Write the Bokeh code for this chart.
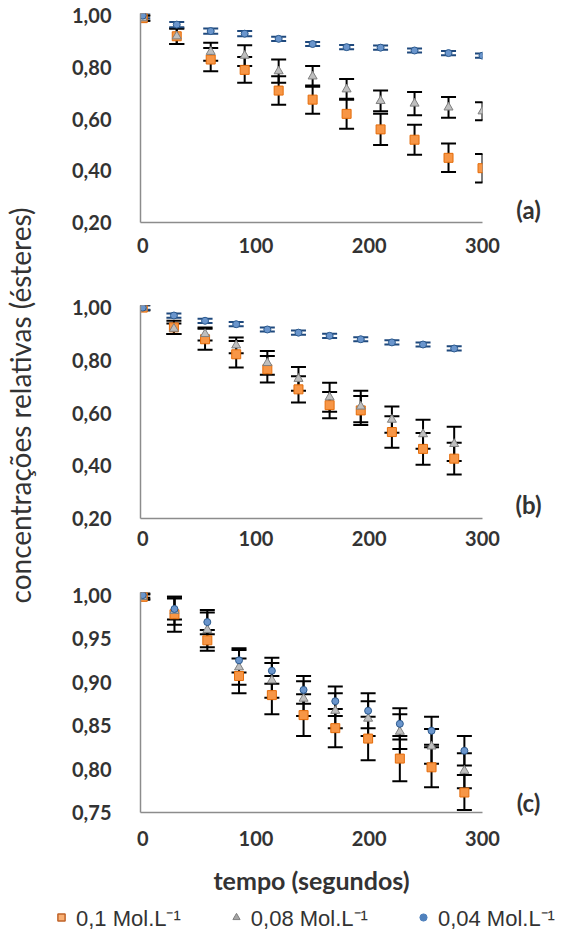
import math
from bokeh.plotting import figure
from bokeh.models import (ColumnDataSource, Whisker, TeeHead, FixedTicker,
                          CustomJSTickFormatter, Label, Range1d, Legend, LegendItem)
from bokeh.layouts import row, column
from bokeh.embed import file_html
from bokeh.resources import INLINE

# ---------------- data ----------------
series_names = ["0,1 Mol.L\u207b\u00b9", "0,08 Mol.L\u207b\u00b9", "0,04 Mol.L\u207b\u00b9"]
panel_tags = ["(a)", "(b)", "(c)"]

times_a = [0, 30, 60, 90, 120, 150, 180, 210, 240, 270, 300]
orange_a = [0.99, 0.92, 0.83, 0.79, 0.71, 0.675, 0.62, 0.56, 0.52, 0.45, 0.41]
orange_a_err = [0.01, 0.03, 0.045, 0.05, 0.055, 0.055, 0.058, 0.06, 0.058, 0.055, 0.055]
grey_a = [0.99, 0.92, 0.86, 0.845, 0.785, 0.765, 0.715, 0.67, 0.66, 0.645, 0.63]
grey_a_err = [0.01, 0.03, 0.035, 0.04, 0.045, 0.04, 0.04, 0.04, 0.045, 0.04, 0.035]
blue_a = [1.0, 0.965, 0.94, 0.93, 0.91, 0.89, 0.878, 0.876, 0.865, 0.855, 0.845]
blue_a_err = [0.01, 0.01, 0.01, 0.01, 0.008, 0.008, 0.008, 0.008, 0.008, 0.008, 0.008]

times_b = [0, 27.5, 55, 82.5, 110, 137.5, 165, 192.5, 220, 247.5, 275]
orange_b = [1.0, 0.925, 0.88, 0.823, 0.766, 0.69, 0.63, 0.61, 0.528, 0.464, 0.427]
orange_b_err = [0.01, 0.025, 0.04, 0.05, 0.05, 0.05, 0.05, 0.055, 0.06, 0.06, 0.06]
grey_b = [1.0, 0.92, 0.90, 0.857, 0.79, 0.73, 0.66, 0.625, 0.575, 0.52, 0.483]
grey_b_err = [0.01, 0.02, 0.025, 0.03, 0.045, 0.045, 0.055, 0.06, 0.05, 0.055, 0.065]
blue_b = [1.0, 0.97, 0.95, 0.937, 0.917, 0.905, 0.893, 0.88, 0.868, 0.86, 0.845]
blue_b_err = [0.008, 0.008, 0.008, 0.008, 0.008, 0.008, 0.008, 0.008, 0.008, 0.008, 0.008]

times_c = [0, 28, 57, 85, 114, 142, 170, 199, 227, 255, 284]
orange_c = [0.998, 0.978, 0.948, 0.907, 0.885, 0.862, 0.847, 0.835, 0.812, 0.802, 0.773]
orange_c_err = [0.003, 0.02, 0.012, 0.02, 0.022, 0.024, 0.022, 0.025, 0.026, 0.023, 0.02]
grey_c = [0.998, 0.982, 0.96, 0.917, 0.902, 0.881, 0.867, 0.858, 0.843, 0.826, 0.798]
grey_c_err = [0.003, 0.016, 0.02, 0.02, 0.02, 0.02, 0.02, 0.02, 0.02, 0.02, 0.02]
blue_c = [1.0, 0.984, 0.969, 0.925, 0.913, 0.891, 0.878, 0.867, 0.852, 0.844, 0.821]
blue_c_err = [0.003, 0.012, 0.014, 0.014, 0.015, 0.016, 0.017, 0.02, 0.018, 0.016, 0.017]

x_ticks = [0, 100, 200, 300]
y_ticks_ab = [0.2, 0.4, 0.6, 0.8, 1.0]
y_ticks_c = [0.75, 0.80, 0.85, 0.90, 0.95, 1.00]

# ---------------- styles ----------------
ORANGE_FILL, ORANGE_LINE = "#F79646", "#E46C0A"
GREY_FILL, GREY_LINE = "#BFBFBF", "#7F7F7F"
BLUE_FILL, BLUE_LINE = "#6A95CC", "#2C5A8E"
AXIS_COLOR = "#8C8C8C"
TEXT_COLOR = "#333333"
FONT = "Lato"

FIG_W = 462
H_A, H_B, H_C = 282, 290, 331
TH = H_A + H_B + H_C


def style_axes(p, xstand, ticks_y):
    p.xgrid.visible = False
    p.ygrid.visible = False
    p.outline_line_color = None
    for ax in (p.xaxis[0], p.yaxis[0]):
        ax.axis_line_color = AXIS_COLOR
        ax.axis_line_width = 1.5
        ax.major_tick_line_color = None
        ax.minor_tick_line_color = None
        ax.major_tick_in = 0
        ax.major_tick_out = 0
        ax.minor_tick_in = 0
        ax.minor_tick_out = 0
        ax.major_label_text_font = FONT
        ax.major_label_text_font_style = "bold"
        ax.major_label_text_font_size = "20px"
        ax.major_label_text_color = TEXT_COLOR
    p.xaxis[0].ticker = FixedTicker(ticks=x_ticks)
    p.xaxis[0].major_label_standoff = xstand
    p.yaxis[0].ticker = FixedTicker(ticks=ticks_y)
    p.yaxis[0].major_label_standoff = 29
    p.yaxis[0].formatter = CustomJSTickFormatter(
        code="return tick.toFixed(2).replace('.', ',');")


def add_series(p, t, y, err, marker, size, fill, line, wcolor):
    src = ColumnDataSource(dict(
        x=t, y=y,
        lower=[a - e for a, e in zip(y, err)],
        upper=[a + e for a, e in zip(y, err)]))
    w = Whisker(source=src, base="x", upper="upper", lower="lower",
                dimension="height", line_color=wcolor, line_width=2,
                upper_head=TeeHead(size=15, line_color=wcolor, line_width=2),
                lower_head=TeeHead(size=15, line_color=wcolor, line_width=2))
    p.add_layout(w)
    return p.scatter("x", "y", source=src, marker=marker, size=size,
                     fill_color=fill, line_color=line, line_width=1)


def panel(height, top, bottom, yr, ticks_y, xstand, data):
    p = figure(width=FIG_W, height=height, x_range=Range1d(-2, 300),
               y_range=Range1d(*yr), output_backend="svg",
               toolbar_location=None, min_border_left=100,
               min_border_right=20, min_border_top=top,
               min_border_bottom=bottom)
    p.background_fill_color = "white"
    p.border_fill_color = "white"
    style_axes(p, xstand, ticks_y)
    t, o, oe, g, ge, b, be, bw = data
    add_series(p, t, o, oe, "square", 9, ORANGE_FILL, ORANGE_LINE, "black")
    add_series(p, t, g, ge, "triangle", 9, GREY_FILL, GREY_LINE, "black")
    add_series(p, t, b, be, "circle", 7, BLUE_FILL, BLUE_LINE, bw)
    return p


pa = panel(H_A, 13, 60, (0.2, 1.008), y_ticks_ab, 15,
           (times_a, orange_a, orange_a_err, grey_a, grey_a_err,
            blue_a, blue_a_err, "#1F497D"))
pb = panel(H_B, 23, 54, (0.2, 1.008), y_ticks_ab, 12,
           (times_b, orange_b, orange_b_err, grey_b, grey_b_err,
            blue_b, blue_b_err, "#1F497D"))
pc = panel(H_C, 20, 91, (0.75, 1.003), y_ticks_c, 18,
           (times_c, orange_c, orange_c_err, grey_c, grey_c_err,
            blue_c, blue_c_err, "black"))
pc.xaxis[0].axis_label = "tempo (segundos)"
pc.xaxis[0].axis_label_text_font = FONT
pc.xaxis[0].axis_label_text_font_style = "bold"
pc.xaxis[0].axis_label_text_font_size = "25px"
pc.xaxis[0].axis_label_text_color = TEXT_COLOR
pc.xaxis[0].axis_label_standoff = 16


def blank(width, height):
    f = figure(width=width, height=height, x_range=Range1d(0, width),
               y_range=Range1d(0, height), output_backend="svg",
               toolbar_location=None, x_axis_location=None,
               y_axis_location=None, min_border=0)
    f.grid.visible = False
    f.outline_line_color = None
    return f


# y title column
pt = blank(40, TH)
pt.add_layout(Label(x=19, y=TH - 405, text="concentrações relativas (ésteres)",
                    angle=math.pi / 2, text_align="center", text_baseline="middle",
                    text_font=FONT, text_font_size="28px", text_color=TEXT_COLOR))

# panel tags column
pr = blank(69, TH)
for tag, ypage in zip(panel_tags, [217, 512, 810]):
    pr.add_layout(Label(x=26, y=TH - (ypage - 8), text=tag, text_font=FONT,
                        text_font_style="bold", text_font_size="24px",
                        text_color=TEXT_COLOR, text_align="center",
                        text_baseline="middle"))

# legend strip
pl = blank(571, 30)
nan = float("nan")
r1 = pl.scatter([nan], [nan], marker="square", fill_color="#F9B074",
                line_color="#C0642A", line_width=1.5)
r2 = pl.scatter([nan], [nan], marker="triangle", fill_color="#A6A6A6",
                line_color="#7F7F7F")
r3 = pl.scatter([nan], [nan], marker="circle", fill_color="#4F81BD",
                line_color="#4F81BD")
leg = Legend(items=[LegendItem(label=series_names[0], renderers=[r1]),
                    LegendItem(label=series_names[1], renderers=[r2]),
                    LegendItem(label=series_names[2], renderers=[r3])],
             orientation="horizontal", location=(52, 1),
             border_line_color=None, background_fill_alpha=0,
             label_text_font="Liberation Sans", label_text_font_size="22px",
             label_text_color=TEXT_COLOR, glyph_width=18, glyph_height=20,
             spacing=46, padding=0, margin=0, label_standoff=6,
             label_height=26)
pl.add_layout(leg, "center")

layout = column(row(pt, column(pa, pb, pc), pr), pl)
open("out.html", "w").write(file_html(layout, INLINE))
